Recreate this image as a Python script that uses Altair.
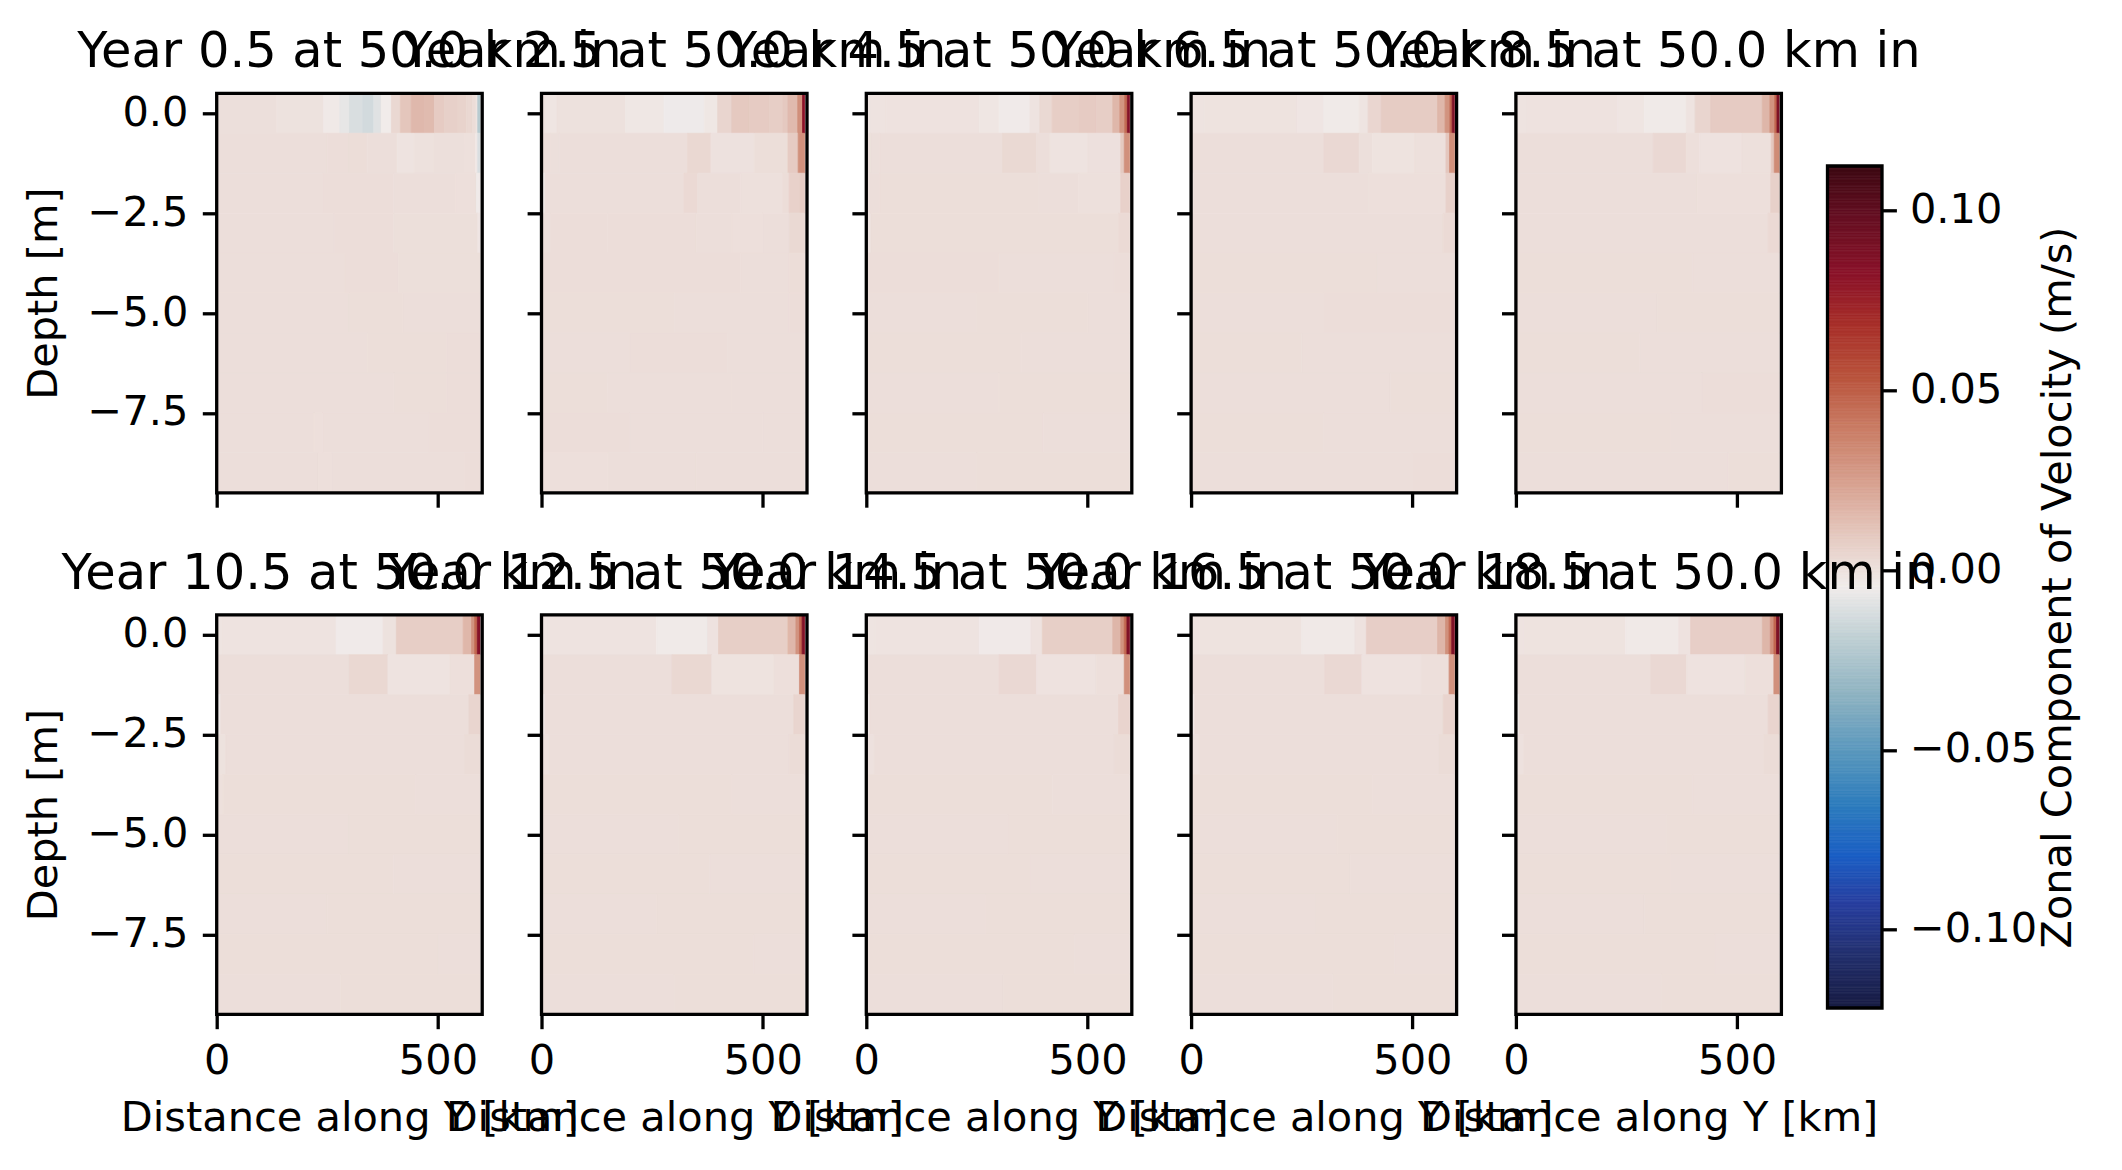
import altair as alt
import pandas as pd

# ---------------- data ----------------
YEARS = [0.5, 2.5, 4.5, 6.5, 8.5, 10.5, 12.5, 14.5, 16.5, 18.5]
DEPTHS = [0, -1, -2, -3, -4, -5, -6, -7, -8, -9]      # cell centres [m]
X_END = 595                                             # last data edge [km]
X_DOMAIN = [0, 600]
Y_DOMAIN = [-9.5, 0.5]
X_TICKS = [0, 500]
Y_TICKS = [0.0, -2.5, -5.0, -7.5]
CB_TICKS = [-0.10, -0.05, 0.0, 0.05, 0.10]
V_RANGE = [-0.1218, 0.1124]                             # colour limits (m/s)
CB_STEP = 0.0004

# each row: list of (start_km, zonal velocity m/s) segments, rows from surface down
P1 = [
    [(0, 0.0006), (136, -0.0006), (242, -0.0035), (278, -0.0075), (300, -0.0115), (330, -0.0135),
     (355, -0.0095), (372, -0.0045), (395, 0.0035), (415, 0.0105), (440, 0.0155), (470, 0.0145),
     (492, 0.0085), (515, 0.0065), (545, 0.0055), (565, 0.0035), (578, 0.0015), (586, -0.0015), (590, -0.021)],
    [(0, 0.0008), (250, 0.0012), (300, 0.0014), (340, 0.0009), (408, -0.0012), (446, -0.0002),
     (490, 0.0006), (560, 0.0002), (585, -0.003), (590, -0.011)],
    [(0, 0.0009), (240, 0.0012), (400, 0.0008), (540, 0.0004), (587, -0.004)],
    [(0, 0.0009), (265, 0.0012), (400, 0.0007), (590, -0.002)],
    [(0, 0.001), (290, 0.0012), (410, 0.0007)],
    [(0, 0.0009), (300, 0.0011), (420, 0.0008)],
    [(0, 0.0009), (340, 0.0011), (520, 0.0012)],
    [(0, 0.0009), (400, 0.0011), (520, 0.0013)],
    [(0, 0.0009), (220, 0.0005), (240, 0.001), (480, 0.0012)],
    [(0, 0.001), (230, 0.0004), (260, 0.001), (560, 0.0013)],
]
P2 = [
    [(0, -0.0008), (10, -0.0018), (35, -0.0002), (190, -0.0025), (277, -0.0055), (368, -0.0025),
     (398, 0.0045), (430, 0.0095), (470, 0.0085), (515, 0.0075), (545, 0.0095), (557, 0.015),
     (579, 0.031), (590, 0.082)],
    [(0, 0.0009), (20, 0.0006), (40, 0.0009), (330, 0.0035), (383, -0.0004), (481, 0.0011),
     (557, 0.0085), (580, 0.031)],
    [(0, -0.004), (8, 0.0009), (322, 0.0028), (353, 0.0009), (450, 0.0003), (545, 0.0015),
     (560, 0.006), (585, 0.008)],
    [(0, 0.0006), (20, 0.0012), (150, 0.0013), (350, 0.0009), (430, 0.0004), (500, 0.0008), (560, 0.003)],
    [(0, 0.0012), (450, 0.0009), (560, 0.0015)],
    [(0, 0.0011), (300, 0.0009), (560, 0.0012)],
    [(0, 0.001), (200, 0.0012), (420, 0.0009)],
    [(0, 0.0011), (150, 0.0009), (430, 0.001)],
    [(0, 0.0012), (200, 0.001), (500, 0.0009)],
    [(0, 0.0004), (150, 0.0008), (350, 0.001)],
]
P3 = [
    [(0, -0.0015), (8, -0.0011), (45, -0.0008), (255, -0.0022), (300, -0.004), (370, -0.0012),
     (392, 0.003), (420, 0.0075), (480, 0.0085), (520, 0.0075), (557, 0.016), (573, 0.029),
     (584, 0.045), (590, 0.085)],
    [(0, 0.0008), (10, 0.0006), (30, 0.0009), (308, 0.003), (385, 0.0009), (415, -0.001),
     (500, 0.0), (575, 0.009), (583, 0.031)],
    [(0, -0.004), (5, 0.0008), (30, 0.0011), (390, 0.0008), (480, 0.0002), (575, 0.006)],
    [(0, -0.001), (10, 0.0011), (570, 0.0025)],
    [(0, 0.0012), (300, 0.001), (560, 0.0013)],
    [(0, 0.001), (250, 0.0011), (500, 0.0009)],
    [(0, 0.0011), (350, 0.001)],
    [(0, 0.001), (300, 0.0011)],
    [(0, 0.0011), (400, 0.001)],
    [(0, 0.0009), (250, 0.0011)],
]
P4 = [
    [(0, -0.0012), (30, -0.0009), (240, -0.002), (300, -0.0038), (380, -0.0015), (400, 0.004),
     (430, 0.008), (557, 0.016), (574, 0.03), (585, 0.046), (590, 0.087)],
    [(0, 0.0009), (300, 0.0032), (380, 0.0006), (410, -0.0009), (505, 0.0002), (576, 0.01), (584, 0.032)],
    [(0, -0.003), (6, 0.0009), (400, 0.0005), (576, 0.006)],
    [(0, 0.001), (570, 0.0025)],
    [(0, 0.0011), (420, 0.0009)],
    [(0, 0.001), (300, 0.0012)],
    [(0, 0.0011), (250, 0.001)],
    [(0, 0.001), (450, 0.0011)],
    [(0, 0.0011), (300, 0.001)],
    [(0, 0.001), (500, 0.0012)],
]
P5 = [
    [(0, -0.001), (25, -0.0008), (230, -0.0018), (290, -0.0037), (385, -0.0012), (405, 0.0045),
     (440, 0.0085), (557, 0.0165), (574, 0.03), (585, 0.047), (590, 0.088)],
    [(0, 0.0009), (310, 0.0033), (385, 0.0005), (415, -0.0008), (510, 0.0003), (577, 0.01), (584, 0.033)],
    [(0, -0.0025), (6, 0.001), (410, 0.0005), (576, 0.0065)],
    [(0, 0.001), (570, 0.0028)],
    [(0, 0.0011), (400, 0.001)],
    [(0, 0.001), (320, 0.0011)],
    [(0, 0.0011), (280, 0.001)],
    [(0, 0.001), (420, 0.0012)],
    [(0, 0.0011), (350, 0.001)],
    [(0, 0.001), (480, 0.0011)],
]
P6 = [
    [(0, -0.0015), (12, -0.001), (270, -0.004), (376, -0.0006), (406, 0.0075), (557, 0.016),
     (576, 0.03), (583, 0.046), (589, 0.085)],
    [(0, 0.001), (300, 0.0035), (387, -0.001), (527, 0.0004), (583, 0.03)],
    [(0, -0.004), (9, 0.001), (570, 0.0045)],
    [(0, -0.0005), (20, 0.001), (560, 0.0018)],
    [(0, 0.0002), (15, 0.0011), (450, 0.001)],
    [(0, 0.001), (300, 0.0011)],
    [(0, 0.0011), (400, 0.001)],
    [(0, 0.001), (250, 0.0011)],
    [(0, 0.0011), (500, 0.001)],
    [(0, 0.0009), (280, 0.0011)],
]
P7 = [
    [(0, -0.0014), (15, -0.001), (260, -0.0038), (375, -0.0008), (400, 0.007), (557, 0.016),
     (575, 0.03), (583, 0.046), (589, 0.086)],
    [(0, 0.001), (295, 0.0034), (385, -0.0009), (525, 0.0005), (583, 0.031)],
    [(0, -0.0035), (8, 0.001), (570, 0.0045)],
    [(0, -0.0004), (18, 0.001), (560, 0.0018)],
    [(0, 0.0011), (430, 0.001)],
    [(0, 0.001), (310, 0.0011)],
    [(0, 0.0011), (380, 0.001)],
    [(0, 0.001), (260, 0.0011)],
    [(0, 0.0011), (480, 0.001)],
    [(0, 0.0009), (300, 0.0011)],
]
P8 = [
    [(0, -0.0013), (20, -0.001), (255, -0.0036), (372, -0.0008), (398, 0.007), (557, 0.0165),
     (575, 0.03), (583, 0.047), (589, 0.087)],
    [(0, 0.001), (300, 0.0033), (385, -0.0008), (520, 0.0005), (583, 0.031)],
    [(0, -0.003), (8, 0.001), (570, 0.0048)],
    [(0, -0.0003), (18, 0.001), (560, 0.0019)],
    [(0, 0.0011), (420, 0.001)],
    [(0, 0.001), (320, 0.0011)],
    [(0, 0.0011), (370, 0.001)],
    [(0, 0.001), (270, 0.0011)],
    [(0, 0.0011), (470, 0.001)],
    [(0, 0.0009), (310, 0.0011)],
]
P9 = [
    [(0, -0.0012), (18, -0.0009), (250, -0.0035), (370, -0.0007), (396, 0.0072), (557, 0.0165),
     (575, 0.031), (583, 0.047), (589, 0.087)],
    [(0, 0.001), (302, 0.0033), (386, -0.0008), (520, 0.0005), (583, 0.031)],
    [(0, -0.003), (8, 0.001), (570, 0.0048)],
    [(0, -0.0003), (18, 0.001), (560, 0.0019)],
    [(0, 0.0011), (410, 0.001)],
    [(0, 0.001), (330, 0.0011)],
    [(0, 0.0011), (360, 0.001)],
    [(0, 0.001), (280, 0.0011)],
    [(0, 0.0011), (460, 0.001)],
    [(0, 0.0009), (320, 0.0011)],
]
P10 = [
    [(0, -0.0012), (18, -0.0009), (248, -0.0034), (368, -0.0007), (395, 0.0072), (557, 0.0165),
     (575, 0.031), (583, 0.047), (589, 0.088)],
    [(0, 0.001), (305, 0.0033), (386, -0.0008), (518, 0.0005), (583, 0.031)],
    [(0, -0.003), (8, 0.001), (570, 0.0048)],
    [(0, -0.0003), (18, 0.001), (560, 0.0019)],
    [(0, 0.0011), (400, 0.001)],
    [(0, 0.001), (340, 0.0011)],
    [(0, 0.0011), (350, 0.001)],
    [(0, 0.001), (290, 0.0011)],
    [(0, 0.0011), (450, 0.001)],
    [(0, 0.0009), (330, 0.0011)],
]
PANELS = [P1, P2, P3, P4, P5, P6, P7, P8, P9, P10]

# cmocean "balance"-like colour stops (fraction of colour range, colour)
CMAP_T = [0.0, 0.063, 0.125, 0.18, 0.24, 0.30, 0.37, 0.44, 0.5, 0.56, 0.62, 0.69, 0.75, 0.81, 0.87, 0.94, 1.0]
CMAP_C = ["#181c43", "#23306e", "#283fa0", "#1b5ec4", "#2d7cbd", "#5796bd", "#8db2c1", "#c0d0d4",
          "#f1eceb", "#e5c9c0", "#d8a392", "#c97b63", "#b9533c", "#a8302a", "#8b1329", "#650f22", "#3c0912"]

# ---------------- layout constants ----------------
FONT = "DejaVu Sans"
FS = 41.5
FS_TITLE = 49.5
PANEL_W = 265.5
PANEL_H = 399.5
COL_GAP = 58.8
ROW_GAP = 121.5
CB_SHIFT = -13.2
CB_BAR_W = 54.5
CB_RANGE = [914.7, 72.7]
LEFT, TOP = 216.7, 93.3

# ---------------- build table ----------------
records = []
for p, rows in enumerate(PANELS):
    for depth, segs in zip(DEPTHS, rows):
        for k, (x0, v) in enumerate(segs):
            x1 = segs[k + 1][0] if k + 1 < len(segs) else X_END
            records.append(dict(panel=p, x0=x0, x1=x1, y0=depth - 0.5, y1=depth + 0.5, v=v))
df = pd.DataFrame(records)

span = V_RANGE[1] - V_RANGE[0]
cscale = alt.Scale(domain=[V_RANGE[0] + t * span for t in CMAP_T], range=CMAP_C, interpolate="rgb")
xscale = alt.Scale(domain=X_DOMAIN, nice=False, zero=False)
yscale = alt.Scale(domain=Y_DOMAIN, nice=False, zero=False)
one = alt.Data(values=[{"k": 1}])


def panel(p):
    r, c = divmod(p, 5)
    xaxis = alt.Axis(values=X_TICKS, labels=(r == 1), format="d", labelPadding=12, titlePadding=15,
                     labelFlush=False, title=("Distance along Y [km]" if r == 1 else ""))
    yaxis = alt.Axis(values=Y_TICKS, labels=(c == 0), format=".1f", labelPadding=14.4, titlePadding=22,
                     labelFlush=False, title=("Depth [m]" if c == 0 else ""))
    heat = alt.Chart(df).transform_filter(alt.datum.panel == p).mark_rect(strokeWidth=0.8).encode(
        x=alt.X("x0:Q", scale=xscale, axis=xaxis),
        x2="x1:Q",
        y=alt.Y("y0:Q", scale=yscale, axis=yaxis),
        y2="y1:Q",
        color=alt.Color("v:Q", scale=cscale, legend=None),
        stroke=alt.Stroke("v:Q", scale=cscale, legend=None),
    )
    frame = alt.Chart(one).mark_rect(fillOpacity=0, stroke="black", strokeWidth=3.3).encode(
        x=alt.XDatum(X_DOMAIN[0]), x2=alt.X2Datum(X_DOMAIN[1]),
        y=alt.YDatum(Y_DOMAIN[0]), y2=alt.Y2Datum(Y_DOMAIN[1]),
    )
    return alt.layer(heat, frame).properties(
        width=PANEL_W, height=PANEL_H,
        title=alt.TitleParams(f"Year {YEARS[p]} at 50.0 km in"),
    )


cb_x = alt.Scale(domain=[0, 1], range=[CB_SHIFT, CB_SHIFT + CB_BAR_W])
cb_y = alt.Scale(domain=V_RANGE, range=CB_RANGE, nice=False, zero=False)
cb_axis = alt.Axis(orient="right", values=CB_TICKS, format=".2f", labelPadding=13, labelFlush=False,
                   labelOverlap=False, title="Zonal Component of Velocity (m/s)", titleAngle=270,
                   titleBaseline="top", titlePadding=1)
cb_fill = alt.Chart(alt.sequence(V_RANGE[0], V_RANGE[1], CB_STEP, as_="v")).transform_calculate(
    v2=f"min(datum.v + {CB_STEP}, {V_RANGE[1]})"
).mark_rect(strokeWidth=0.8).encode(
    x=alt.XDatum(0, scale=cb_x, axis=None), x2=alt.X2Datum(1),
    y=alt.Y("v:Q", scale=cb_y, axis=cb_axis), y2="v2:Q",
    color=alt.Color("v:Q", scale=cscale, legend=None),
    stroke=alt.Stroke("v:Q", scale=cscale, legend=None),
)
cb_frame = alt.Chart(one).mark_rect(fillOpacity=0, stroke="black", strokeWidth=3.3).encode(
    x=alt.XDatum(0), x2=alt.X2Datum(1),
    y=alt.YDatum(V_RANGE[0]), y2=alt.Y2Datum(V_RANGE[1]),
)
colorbar = alt.layer(cb_fill, cb_frame).properties(width=CB_SHIFT + CB_BAR_W, height=PANEL_H)

cells = [panel(p) for p in range(5)] + [colorbar] + [panel(p) for p in range(5, 10)]

chart = alt.concat(
    *cells, columns=6, spacing={"row": ROW_GAP, "column": COL_GAP}, bounds="flush"
).properties(
    autosize=alt.AutoSizeParams(type="none"),
    padding={"left": LEFT, "top": TOP, "right": 2122 - LEFT, "bottom": 1170 - TOP},
    background="white",
).configure(font=FONT).configure_view(stroke="transparent").configure_axis(
    tickSize=14.4, tickWidth=3.3, tickColor="black", domain=False, grid=False,
    labelFont=FONT, labelFontSize=FS, labelColor="black",
    titleFont=FONT, titleFontSize=FS, titleFontWeight="normal", titleColor="black",
).configure_title(
    font=FONT, fontSize=FS_TITLE, fontWeight="normal", color="black", anchor="middle",
    baseline="alphabetic", offset=14,
)

chart.save("out.html", embed_options={"renderer": "svg", "actions": False})
